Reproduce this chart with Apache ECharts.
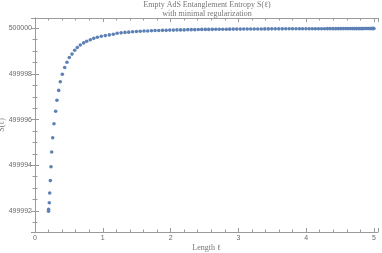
<!DOCTYPE html>
<html>
<head>
<meta charset="utf-8">
<script src="https://cdn.jsdelivr.net/npm/echarts@6/dist/echarts.min.js"></script>
<style>html,body{margin:0;padding:0;background:#fff;}#c{width:382px;height:253px;}</style>
</head>
<body>
<div id="c"></div>
<script>
// Length ℓ values
var lengths = [0.200,0.201,0.211,0.217,0.226,0.236,0.246,0.261,0.280,0.305,0.324,0.350,0.373,0.403,0.438,0.472,0.506,0.546,0.586,0.624,0.668,0.718,0.763,0.816,0.866,0.919,0.978,1.037,1.096,1.155,
1.212,1.270,1.327,1.383,1.440,1.496,1.552,1.608,1.662,1.717,1.771,1.826,1.881,1.935,1.988,2.041,2.094,2.147,2.200,2.254,2.305,2.357,2.409,2.460,2.512,2.563,2.615,2.667,2.718,2.770,2.822,2.873,2.925,2.976,3.028,3.080,3.131,3.183,3.234,3.286,3.338,3.389,3.441,3.493,3.544,3.596,3.647,3.699,3.749,3.799,3.850,3.900,3.948,3.997,4.044,4.091,4.137,4.183,4.227,4.271,4.314,4.355,4.397,4.437,4.475,4.513,4.550,4.586,4.619,4.652,4.683,4.712,4.740,4.767,4.792,4.816,4.838,4.858,4.878,4.895,4.912,4.926,4.940,4.951,4.962,4.971,4.978,4.984,4.988,4.991,5.000];
// Entropy S(ℓ) values
var entropy = [499991.99,499992.07,499992.36,499992.79,499993.33,499993.94,499994.58,499995.21,499995.82,499996.37,499996.85,499997.28,499997.66,499997.99,499998.28,499998.51,499998.72,499998.87,499999.04,499999.16,499999.27,499999.36,499999.43,499999.50,499999.56,499999.61,499999.65,499999.68,499999.71,499999.74,
499999.78,499999.80,499999.82,499999.83,499999.85,499999.86,499999.87,499999.88,499999.88,499999.89,499999.90,499999.90,499999.91,499999.91,499999.92,499999.92,499999.93,499999.93,499999.93,499999.94,499999.94,499999.94,499999.945,499999.95,499999.95,499999.95,499999.953,499999.955,499999.957,499999.958,499999.96,499999.961,499999.963,499999.964,499999.965,499999.966,499999.967,499999.968,499999.969,499999.970,499999.971,499999.972,499999.973,499999.974,499999.975,499999.975,499999.976,499999.977,499999.977,499999.978,499999.978,499999.979,499999.979,499999.980,499999.980,499999.981,499999.981,499999.982,499999.982,499999.982,499999.983,499999.983,499999.983,499999.984,499999.984,499999.984,499999.985,499999.985,499999.985,499999.985,499999.985,499999.986,499999.986,499999.986,499999.986,499999.986,499999.986,499999.987,499999.987,499999.987,499999.987,499999.987,499999.987,499999.987,499999.987,499999.987,499999.987,499999.987,499999.987,499999.987,499999.987];
var xTicks = ['0','1','2','3','4','5'];
var yTicks = ['499992','499994','499996','499998','500000'];

var points = lengths.map(function(l, i){ return [l, entropy[i]]; });

var frame = '#9a9a9a';
var labelColor = '#6a6a6a';
function baseAxis(extra){
  var a = {
    type: 'value',
    axisLine: {show: true, lineStyle: {color: frame, width: 1}},
    axisTick: {show: true, inside: true, length: 4, lineStyle: {color: frame}},
    minorTick: {show: true, length: 2.5, lineStyle: {color: frame}},
    splitLine: {show: false},
    minorSplitLine: {show: false}
  };
  for (var k in extra) a[k] = extra[k];
  return a;
}
var xMin = 0, xMax = 5.06, yMin = 499991.08, yMax = 500000.45;

var chart = echarts.init(document.getElementById('c'), null, {renderer: 'canvas'});
chart.setOption({
  animation: false,
  backgroundColor: '#fff',
  title: {
    text: 'Empty AdS Entanglement Entropy S(ℓ)\nwith minimal regularization',
    top: 1, left: 207, textAlign: 'center', padding: 0,
    textStyle: {fontFamily: 'Liberation Serif', fontSize: 8, fontWeight: 'normal', color: '#777', lineHeight: 8.5}
  },
  grid: {left: 35, right: 4, top: 18, bottom: 21, containLabel: false, outerBoundsMode: 'none'},
  xAxis: [
    baseAxis({position: 'bottom', min: xMin, max: xMax, interval: 1,
      minorTick: {show: true, splitNumber: 5, length: 2.5, lineStyle: {color: frame}},
      name: 'Length ℓ', nameLocation: 'middle', nameGap: 12, nameMoveOverlap: false,
      nameTextStyle: {fontFamily: 'Liberation Serif', fontSize: 8, color: '#777'},
      axisLabel: {show: true, fontFamily: 'Liberation Sans', fontSize: 7, color: labelColor, margin: 3,
        showMaxLabel: false,
        formatter: function(v){ var s = String(Math.round(v)); return xTicks.indexOf(s) >= 0 && Math.abs(v - Math.round(v)) < 1e-6 ? s : ''; }}
    }),
    baseAxis({position: 'top', min: xMin, max: xMax, interval: 1,
      minorTick: {show: true, splitNumber: 5, length: 2.5, lineStyle: {color: frame}},
      axisLabel: {show: false}})
  ],
  yAxis: [
    baseAxis({position: 'left', min: yMin, max: yMax, splitNumber: 5,
      minorTick: {show: true, splitNumber: 4, length: 2.5, lineStyle: {color: frame}},
      name: 'S(ℓ)', nameLocation: 'middle', nameGap: 29, nameRotate: 90, nameMoveOverlap: false,
      nameTextStyle: {fontFamily: 'Liberation Serif', fontSize: 8, color: '#777'},
      axisLabel: {show: true, fontFamily: 'Liberation Sans', fontSize: 7, color: labelColor, margin: 3,
        showMinLabel: false, showMaxLabel: false,
        formatter: function(v){ var s = String(Math.round(v)); return yTicks.indexOf(s) >= 0 && Math.abs(v - Math.round(v)) < 1e-6 ? s : ''; }}
    }),
    baseAxis({position: 'right', min: yMin, max: yMax, splitNumber: 5,
      minorTick: {show: true, splitNumber: 4, length: 2.5, lineStyle: {color: frame}},
      axisLabel: {show: false}})
  ],
  series: [{
    type: 'scatter',
    xAxisIndex: 0, yAxisIndex: 0,
    data: points,
    symbol: 'circle',
    symbolSize: 3.6,
    itemStyle: {color: '#5E81B5', opacity: 1},
    silent: true
  }]
});
</script>
</body>
</html>
